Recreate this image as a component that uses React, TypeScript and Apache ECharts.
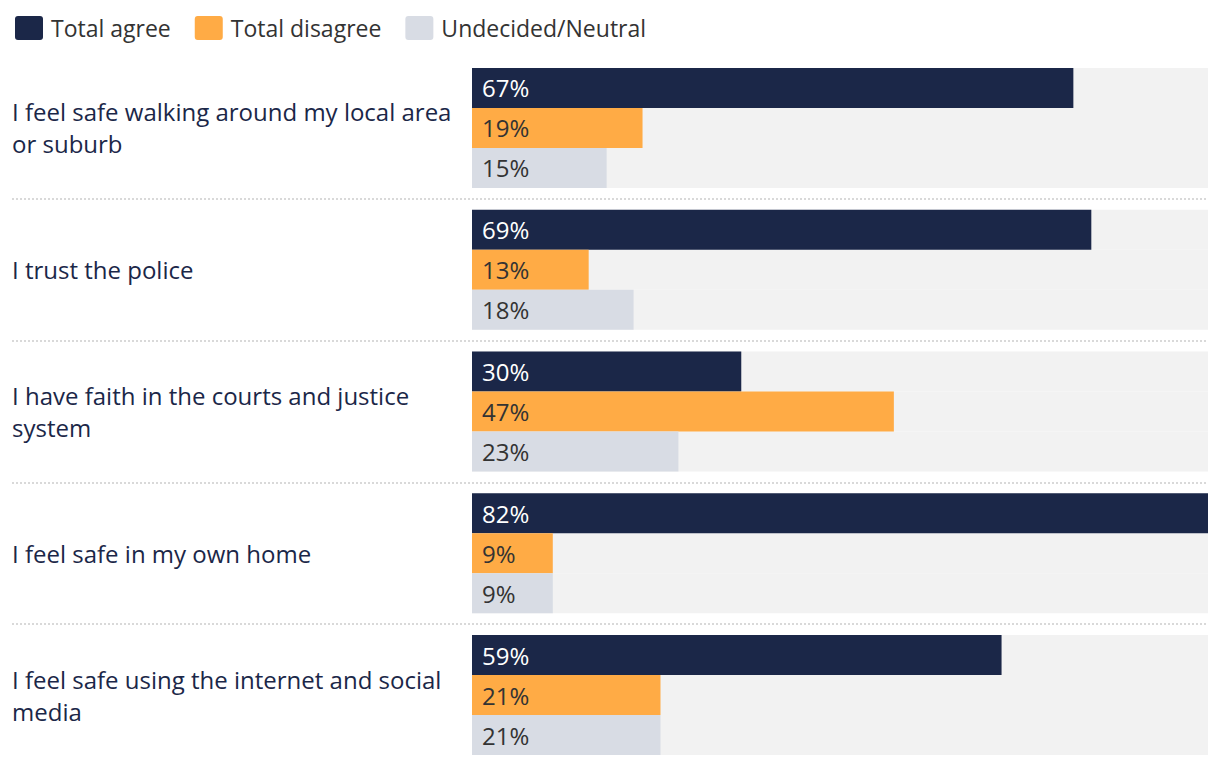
import React, { useEffect, useRef } from "react";
import * as echarts from "echarts";

const categories = [
  "I feel safe walking around my local area\nor suburb",
  "I trust the police",
  "I have faith in the courts and justice\nsystem",
  "I feel safe in my own home",
  "I feel safe using the internet and social\nmedia",
];
const seriesNames = ["Total agree", "Total disagree", "Undecided/Neutral"];
const totalAgree = [67, 69, 30, 82, 59];
const totalDisagree = [19, 13, 47, 9, 21];
const undecided = [15, 18, 23, 9, 21];
const colors = ["#1b2748", "#ffab45", "#d8dce4"];
const labelColors = ["#ffffff", "#333333", "#333333"];

const FONT = "'Open Sans', 'Noto Sans', sans-serif";

export default function App() {
  const ref = useRef<HTMLDivElement>(null);
  useEffect(() => {
    const chart = echarts.init(ref.current!, null, { renderer: "svg" });
    const values = [totalAgree, totalDisagree, undecided];
    const maxVal = Math.max(...totalAgree, ...totalDisagree, ...undecided);
    const gridTop = 57;
    const gridHeight = 710;
    chart.setOption({
      animation: false,
      textStyle: { fontFamily: FONT },
      legend: {
        left: 10,
        top: 11,
        itemWidth: 28,
        itemHeight: 24,
        itemGap: 24,
        icon: "path://M3,0H25Q28,0 28,3V21Q28,24 25,24H3Q0,24 0,21V3Q0,0 3,0Z",
        textStyle: { fontSize: 23, color: "#333333", fontFamily: FONT, padding: [0, 0, 0, 3] },
        data: seriesNames,
      },
      grid: [
        { left: 472, right: 12, top: gridTop, height: gridHeight },
        { left: 12, right: 12, top: gridTop, height: gridHeight },
      ],
      xAxis: [
        { type: "value", gridIndex: 0, min: 0, max: maxVal, show: false },
        { type: "value", gridIndex: 1, min: 0, max: 1, show: false },
      ],
      yAxis: [
        {
          type: "category",
          gridIndex: 0,
          data: categories,
          inverse: true,
          axisLine: { show: false },
          axisTick: { show: false },
          splitLine: { show: false },
          axisLabel: {
            align: "left",
            margin: 460,
            fontSize: 24,
            lineHeight: 32,
            color: "#1b2748",
            fontFamily: FONT,
          },
        },
        {
          type: "category",
          gridIndex: 1,
          data: categories,
          inverse: true,
          axisLine: { show: false },
          axisTick: { show: false },
          axisLabel: { show: false },
          splitLine: {
            show: true,
            showMinLine: false,
            showMaxLine: false,
            lineStyle: { color: "#d9d9d9", width: 2, type: [2, 2] },
          },
        },
      ],
      series: seriesNames.map((name, i) => ({
        name,
        type: "bar",
        xAxisIndex: 0,
        yAxisIndex: 0,
        data: values[i],
        barWidth: 40,
        barGap: "0%",
        itemStyle: { color: colors[i] },
        showBackground: true,
        backgroundStyle: { color: "#f2f2f2" },
        label: {
          show: true,
          position: "insideLeft",
          distance: 10,
          formatter: "{c}%",
          fontSize: 24,
          color: labelColors[i],
          fontFamily: FONT,
        },
      })),
    });
    return () => chart.dispose();
  }, []);
  return (
    <div
      ref={ref}
      style={{ position: "fixed", left: 0, top: 0, width: 1220, height: 766, background: "#ffffff" }}
    />
  );
}
